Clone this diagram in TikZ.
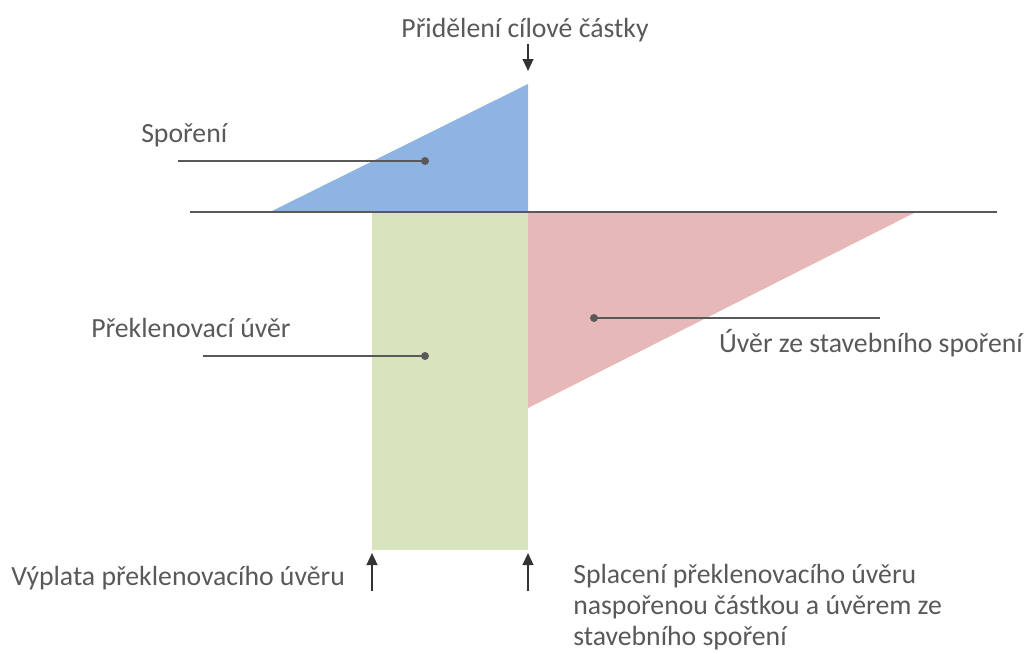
\documentclass[tikz,border=0pt]{standalone}
\usepackage{fontspec}
\setmainfont{Carlito}
\usetikzlibrary{arrows.meta}
\definecolor{txtgray}{HTML}{595959}
\definecolor{linegray}{HTML}{595959}
\definecolor{sporblue}{HTML}{8EB4E3}
\definecolor{prekgreen}{HTML}{D7E4BD}
\definecolor{uverred}{HTML}{E6B9B8}
\tikzset{
  lbl/.style={inner sep=0.75pt, text=txtgray, font=\fontsize{20.8}{23.25}\selectfont},
  leader/.style={draw=linegray, line width=1.1pt},
  dotmark/.style={circle, fill=linegray, inner sep=0pt, minimum size=6pt},
  timearrow/.style={draw=black!80, line width=1.7pt, -{Triangle[length=9pt,width=8pt]}}
}
\begin{document}
\begin{tikzpicture}[x=0.75pt,y=0.75pt,yscale=-1,xscale=1]
    \useasboundingbox (0,0) rectangle (1027,653);
    %Shape: Triangle [Sporeni]
    \fill[sporblue] (270,212) -- (528,212) -- (528,84) -- cycle ;
    %Shape: Rectangle [Preklenovaci uver]
    \fill[prekgreen] (372,212) rectangle (528,550) ;
    %Shape: Triangle [Uver ze stavebniho sporeni]
    \fill[uverred] (528,212) -- (916,212) -- (528,408) -- cycle ;
    %Straight Lines [axis]
    \coordinate (axisL) at (190,212);
    \coordinate (axisR) at (997,212);
    \draw[leader] (axisL) -- (axisR) ;
    %Dots and leader lines
    \node[dotmark] (dotSpor) at (425,161) {};
    \coordinate (endSpor) at (178,161);
    \draw[leader] (endSpor) -- (dotSpor.center) ;
    \node[dotmark] (dotPrek) at (425,356) {};
    \coordinate (endPrek) at (203,356);
    \draw[leader] (endPrek) -- (dotPrek.center) ;
    \node[dotmark] (dotUver) at (594,318) {};
    \coordinate (endUver) at (880,318);
    \draw[leader] (dotUver.center) -- (endUver) ;
    %Arrows
    \coordinate (topS) at (528,44);
    \coordinate (topE) at (528,71);
    \draw[timearrow] (topS) -- (topE) ;
    \coordinate (vyplS) at (372,591);
    \coordinate (vyplE) at (372,553);
    \draw[timearrow] (vyplS) -- (vyplE) ;
    \coordinate (splaS) at (528,591);
    \coordinate (splaE) at (528,553);
    \draw[timearrow] (splaS) -- (splaE) ;
    % Text Node
    \draw (525,30) node [lbl] (tPrid) {Přidělení cílové částky};
    % Text Node
    \draw (140,135) node [lbl, anchor=west] (tSpor) {Spoření};
    % Text Node
    \draw (90,328) node [lbl, anchor=west] (tPrek) {Překlenovací úvěr};
    % Text Node
    \draw (1024,343) node [lbl, anchor=east] (tUver) {Úvěr ze stavebního spoření};
    % Text Node
    \draw (10,578) node [lbl, anchor=west] (tVypl) {Výplata překlenovacího úvěru};
    % Text Node
    \draw (572,563) node [lbl, anchor=north west, align=left] (tSpla) {Splacení překlenovacího úvěru\\naspořenou částkou a úvěrem ze\\stavebního spoření};
\end{tikzpicture}
\end{document}
